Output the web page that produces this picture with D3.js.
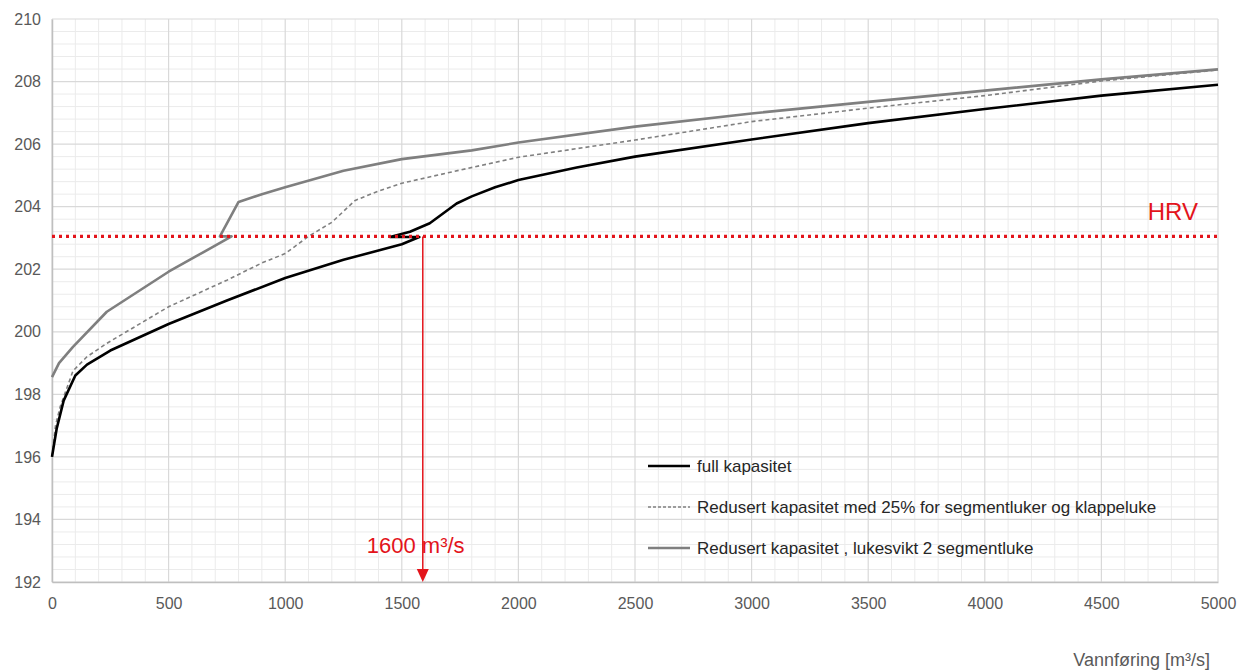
<!DOCTYPE html>
<html>
<head>
<meta charset="utf-8">
<script src="https://cdn.jsdelivr.net/npm/d3@7"></script>
<style>
  body { margin: 0; background: #fff; }
  svg { display: block; font-family: "Liberation Sans", Arial, sans-serif; }
</style>
</head>
<body>
<div id="chart"></div>
<script>
// full kapasitet
const qFull = [0, 20, 50, 100, 150, 250, 500, 750, 1000, 1250, 1500, 1575,
  1450, 1535, 1620, 1735, 1800, 1900, 2000, 2250, 2500, 3000, 3500, 4000, 4500, 5000];
const hFull = [196.0, 196.9, 197.8, 198.6, 198.95, 199.4, 200.25, 201.0, 201.72, 202.3, 202.8, 203.03,
  203.03, 203.2, 203.47, 204.1, 204.33, 204.62, 204.85, 205.25, 205.6, 206.15, 206.67, 207.12, 207.55, 207.9];

// Redusert kapasitet med 25%
const qRed25 = [0, 15, 35, 90, 150, 235, 500, 750, 900, 1000, 1100, 1200, 1300, 1400, 1500,
  1750, 2000, 2500, 3000, 3500, 4000, 4500, 5000];
const hRed25 = [196.0, 197.0, 197.6, 198.75, 199.2, 199.63, 200.8, 201.65, 202.2, 202.5, 203.05, 203.5, 204.2, 204.5, 204.75,
  205.17, 205.58, 206.13, 206.72, 207.15, 207.55, 208.02, 208.37];

// Redusert kapasitet, lukesvikt 2 segmentluke
const qSvikt = [0, 30, 90, 235, 500, 650, 770, 720, 800, 900, 1000, 1250, 1500, 1800,
  2000, 2500, 3000, 3500, 4000, 4500, 5000];
const hSvikt = [198.55, 199.0, 199.52, 200.64, 201.92, 202.55, 203.05, 203.05, 204.15, 204.4, 204.62, 205.15, 205.52, 205.8,
  206.05, 206.56, 206.98, 207.35, 207.71, 208.07, 208.39];

const xTicks = [0, 500, 1000, 1500, 2000, 2500, 3000, 3500, 4000, 4500, 5000];
const yTicks = [192, 194, 196, 198, 200, 202, 204, 206, 208, 210];
const hrv = 203.05;
const qMark = 1590;

const legendNames = ['full kapasitet', 'Redusert kapasitet med 25% for segmentluker og klappeluke',
  'Redusert kapasitet , lukesvikt 2 segmentluke'];

const width = 1246, height = 670;
const margin = { top: 19, right: 28, bottom: 88, left: 52 };

const svg = d3.select('#chart').append('svg')
  .attr('width', width)
  .attr('height', height);

const x = d3.scaleLinear().domain([0, 5000]).range([margin.left, width - margin.right]);
const y = d3.scaleLinear().domain([192, 210]).range([height - margin.bottom, margin.top]);

// minor grid
svg.append('g')
  .selectAll('line')
  .data(d3.range(100, 5000, 100).filter(v => v % 500 !== 0))
  .enter().append('line')
  .attr('x1', d => x(d)).attr('x2', d => x(d))
  .attr('y1', y(192)).attr('y2', y(210))
  .attr('stroke', '#ebebeb').attr('stroke-width', 1);
svg.append('g')
  .selectAll('line')
  .data(d3.range(0, 45).map(i => 192 + i * 0.4).filter(v => Math.abs(v / 2 - Math.round(v / 2)) > 0.01))
  .enter().append('line')
  .attr('x1', x(0)).attr('x2', x(5000))
  .attr('y1', d => y(d)).attr('y2', d => y(d))
  .attr('stroke', '#ebebeb').attr('stroke-width', 1);

// major grid
svg.append('g')
  .selectAll('line')
  .data(xTicks)
  .enter().append('line')
  .attr('x1', d => x(d)).attr('x2', d => x(d))
  .attr('y1', y(192)).attr('y2', y(210))
  .attr('stroke', '#d9d9d9').attr('stroke-width', 1.2);
svg.append('g')
  .selectAll('line')
  .data(yTicks)
  .enter().append('line')
  .attr('x1', x(0)).attr('x2', x(5000))
  .attr('y1', d => y(d)).attr('y2', d => y(d))
  .attr('stroke', '#d9d9d9').attr('stroke-width', 1.2);

// axes
const xAxis = svg.append('g')
  .attr('transform', `translate(0,${y(192)})`)
  .call(d3.axisBottom(x).tickValues(xTicks).tickSize(0).tickPadding(16).tickFormat(d3.format('d')));
const yAxis = svg.append('g')
  .attr('transform', `translate(${x(0)},0)`)
  .call(d3.axisLeft(y).tickValues(yTicks).tickSize(0).tickPadding(11).tickFormat(d3.format('d')));
[xAxis, yAxis].forEach(a => {
  a.select('.domain').attr('stroke', '#bfbfbf').attr('stroke-width', 1.5);
  a.selectAll('text').attr('fill', '#595959').attr('font-size', 16)
    .attr('font-family', '"Liberation Sans", Arial, sans-serif');
});

// series
const line = d3.line().x(d => x(d[0])).y(d => y(d[1]));
const series = [
  { q: qSvikt, h: hSvikt, color: '#7f7f7f', w: 2.6, dash: null },
  { q: qRed25, h: hRed25, color: '#808080', w: 1.6, dash: '4,3' },
  { q: qFull, h: hFull, color: '#000000', w: 2.6, dash: null }
];
svg.append('g')
  .selectAll('path')
  .data(series)
  .enter().append('path')
  .attr('d', s => line(s.q.map((v, i) => [v, s.h[i]])))
  .attr('fill', 'none')
  .attr('stroke', s => s.color)
  .attr('stroke-width', s => s.w)
  .attr('stroke-dasharray', s => s.dash)
  .attr('stroke-linejoin', 'round');

// HRV line
svg.append('line')
  .attr('x1', x(0)).attr('x2', x(5000))
  .attr('y1', y(hrv)).attr('y2', y(hrv))
  .attr('stroke', '#e3141b').attr('stroke-width', 3.2)
  .attr('stroke-dasharray', '3,4');
svg.append('text')
  .attr('x', x(5000) - 20).attr('y', y(hrv) - 16)
  .attr('text-anchor', 'end')
  .attr('fill', '#e3141b').attr('font-size', 24)
  .text('HRV');

// 1600 m3/s marker
svg.append('line')
  .attr('x1', x(qMark)).attr('x2', x(qMark))
  .attr('y1', y(hrv)).attr('y2', y(192) - 12)
  .attr('stroke', '#e3141b').attr('stroke-width', 1.5);
svg.append('path')
  .attr('d', `M${x(qMark) - 6},${y(192) - 13} L${x(qMark) + 6},${y(192) - 13} L${x(qMark)},${y(192)} Z`)
  .attr('fill', '#e3141b');
svg.append('text')
  .attr('x', x(qMark) - 56).attr('y', y(192) - 29)
  .attr('fill', '#e3141b').attr('font-size', 22)
  .text('1600 m³/s');

// legend
const leg = svg.append('g').attr('transform', `translate(${x(0) + 596},466)`);
series.slice().reverse().forEach((s, i) => {
  const g = leg.append('g').attr('transform', `translate(0,${i * 41})`);
  g.append('line')
    .attr('x1', 0).attr('x2', 42).attr('y1', 0).attr('y2', 0)
    .attr('stroke', s.color).attr('stroke-width', s.dash ? 1.4 : s.w)
    .attr('stroke-dasharray', s.dash ? '3,2' : null);
  g.append('text')
    .attr('x', 49).attr('y', 0).attr('dy', '0.35em')
    .attr('fill', '#262626').attr('font-size', 17)
    .text(legendNames[i]);
});

// x title
svg.append('text')
  .attr('x', 1210).attr('y', 666)
  .attr('text-anchor', 'end')
  .attr('fill', '#595959').attr('font-size', 18)
  .text('Vannføring [m³/s]');
</script>
</body>
</html>
